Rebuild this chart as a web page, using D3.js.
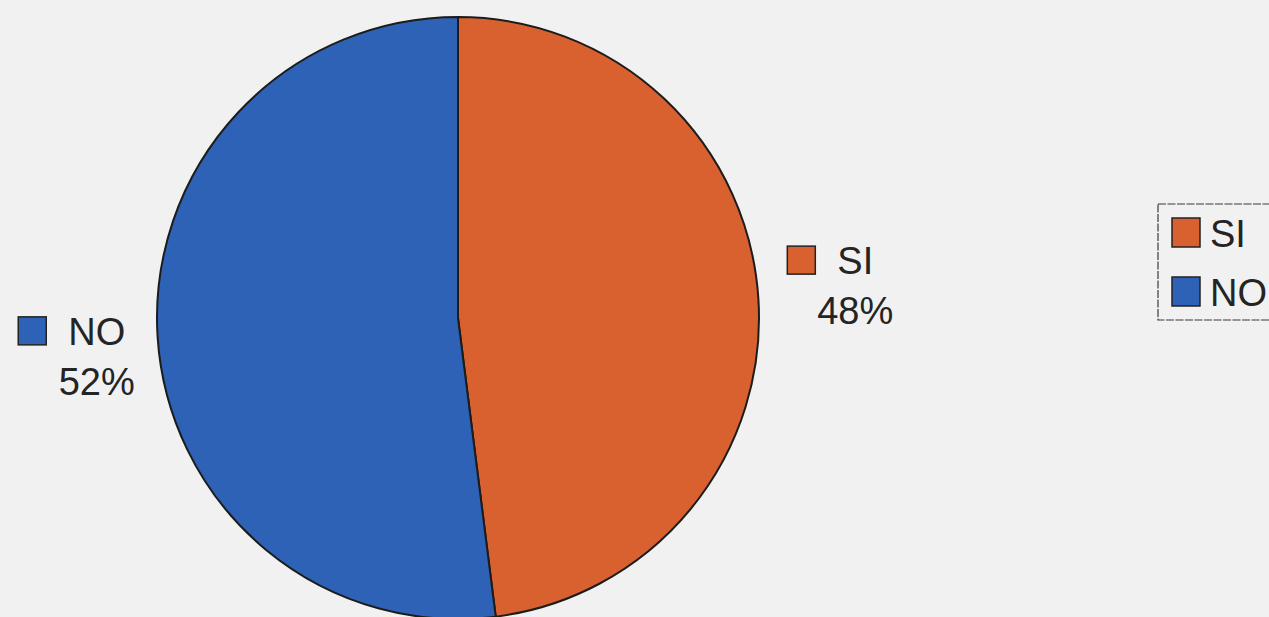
<!DOCTYPE html>
<html>
<head>
<meta charset="utf-8">
<script src="https://cdn.jsdelivr.net/npm/d3@7"></script>
<style>
  html, body { margin: 0; padding: 0; background: #f1f1f1; overflow: hidden; }
  svg { display: block; }
  text { font-family: "Liberation Sans", Arial, sans-serif; fill: #242424; }
</style>
</head>
<body>
<svg id="chart" width="1269" height="617"></svg>
<script>
// Answer categories and their shares (%)
const categories = ["SI", "NO"];
const shares = [48, 52];
const sliceColors = ["#d9602f", "#2d62b6"];

const width = 1269, height = 617;
const cx = 458, cy = 318, radius = 301;

const svg = d3.select("#chart");
svg.append("rect").attr("width", width).attr("height", height).attr("fill", "#f1f1f1");

const color = d3.scaleOrdinal().domain(categories).range(sliceColors);

const data = categories.map((c, i) => ({ name: c, value: shares[i] }));
const pie = d3.pie().sort(null).value(d => d.value);
const arcs = pie(data);

const arc = d3.arc().innerRadius(0).outerRadius(radius);
const labelArc = d3.arc().innerRadius(380).outerRadius(380);

const g = svg.append("g").attr("transform", `translate(${cx},${cy})`);

g.selectAll("path.slice")
  .data(arcs)
  .enter().append("path")
  .attr("class", "slice")
  .attr("d", arc)
  .attr("fill", d => color(d.data.name))
  .attr("stroke", "#1c1c1c")
  .attr("stroke-width", 2)
  .attr("stroke-linejoin", "round");

// Data labels: colour key + category name, percentage underneath
const fontSize = 38;
const labels = g.selectAll("g.label")
  .data(arcs)
  .enter().append("g")
  .attr("class", "label")
  .attr("transform", d => {
    const [x, y] = labelArc.centroid(d);
    const mid = (d.startAngle + d.endAngle) / 2;
    const nudge = mid < Math.PI ? -10 : 13;
    return `translate(${x + 18},${y + nudge})`;
  });

const nameText = labels.append("text")
  .attr("text-anchor", "middle")
  .attr("y", -10)
  .attr("font-size", fontSize)
  .text(d => d.data.name);

labels.append("text")
  .attr("text-anchor", "middle")
  .attr("y", 40)
  .attr("font-size", fontSize)
  .text(d => Math.round(d.data.value) + "%");

// colour key sits just left of the category name
nameText.each(function() {
  const w = this.getComputedTextLength();
  d3.select(this.parentNode).insert("rect", "text")
    .attr("x", -w / 2 - 22 - 28)
    .attr("y", -38)
    .attr("width", 28)
    .attr("height", 28)
    .attr("fill", d => color(d.data.name))
    .attr("stroke", "#222")
    .attr("stroke-width", 1.5);
});

// Legend
const legend = svg.append("g").attr("transform", "translate(1158,204)");
legend.append("rect")
  .attr("x", 0).attr("y", 0)
  .attr("width", 140).attr("height", 116)
  .attr("fill", "#f1f1f1")
  .attr("stroke", "#3a3a3a")
  .attr("stroke-width", 1.2)
  .attr("stroke-dasharray", "8,1.5");

const items = legend.selectAll("g.item")
  .data(categories)
  .enter().append("g")
  .attr("class", "item")
  .attr("transform", (d, i) => `translate(14,${14 + i * 59})`);

items.append("rect")
  .attr("width", 28).attr("height", 29)
  .attr("fill", d => color(d))
  .attr("stroke", "#222")
  .attr("stroke-width", 1.5);

items.append("text")
  .attr("x", 38).attr("y", 29)
  .attr("font-size", fontSize)
  .text(d => d);
</script>
</body>
</html>
